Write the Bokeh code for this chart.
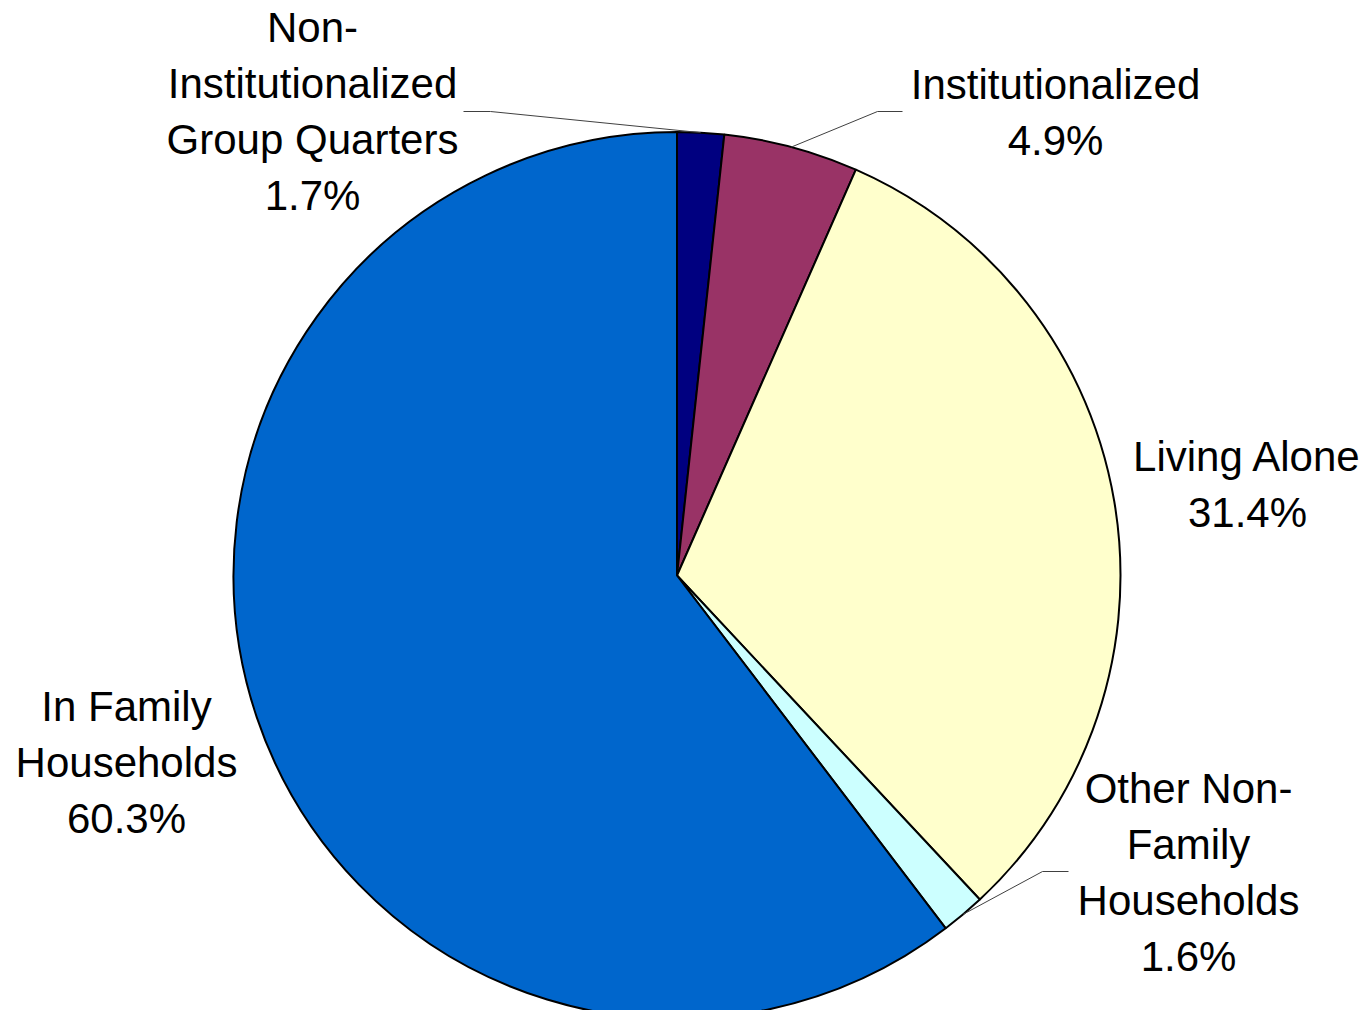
import math
from bokeh.plotting import figure
from bokeh.models import Range1d, ColumnDataSource
from bokeh.embed import file_html
from bokeh.resources import INLINE
from bokeh.core.properties import value

# ---- data ----
categories = ["Non-Institutionalized Group Quarters", "Institutionalized",
              "Living Alone", "Other Non-Family Households", "In Family Households"]
label_lines = [["Non-", "Institutionalized", "Group Quarters"],
               ["Institutionalized"],
               ["Living Alone"],
               ["Other Non-", "Family", "Households"],
               ["In Family", "Households"]]
shares = [1.7, 4.9, 31.4, 1.6, 60.3]
colors = ["#000080", "#993366", "#FFFFCC", "#CCFFFF", "#0066CC"]

# ---- layout (screen pixels) ----
W, H = 1359, 1010
CX, CY, R = 676.5, 575.0, 443.5
label_anchor = [(312, 27), (1055, 84), (1247, 456), (1188, 788), (126, 706)]
LINE_STEP = 56
leader_elbow = [((490, 111), (463, 111)), ((877, 111), (902, 111)), None,
                ((1042, 871), (1068, 871)), None]


def sy(y):
    return H - y


p = figure(width=W, height=H, output_backend="svg", toolbar_location=None,
           x_range=Range1d(0, W), y_range=Range1d(0, H),
           x_axis_location=None, y_axis_location=None, min_border=0)
p.outline_line_color = None
p.grid.visible = False
p.background_fill_color = "white"
p.border_fill_color = "white"

total = sum(shares)
starts, ends, mids = [], [], []
cum = 0.0
for v in shares:
    a0 = math.pi / 2 - 2 * math.pi * cum / total
    cum += v
    a1 = math.pi / 2 - 2 * math.pi * cum / total
    starts.append(a0)
    ends.append(a1)
    mids.append((a0 + a1) / 2)

src = ColumnDataSource(dict(x=[CX] * len(shares), y=[sy(CY)] * len(shares),
                            start=starts, end=ends, color=colors, cat=categories))
p.wedge(x="x", y="y", radius=R, start_angle="start", end_angle="end",
        direction="clock", fill_color="color", line_color="black",
        line_width=2, source=src)

# leader lines
for i, el in enumerate(leader_elbow):
    if el is None:
        continue
    rx = CX + R * math.cos(mids[i])
    ry = sy(CY) + R * math.sin(mids[i])
    (ex, ey), (tx, ty) = el
    p.line([rx, ex, tx], [ry, sy(ey), sy(ty)], line_color="#404040", line_width=1)

# labels
tx_, ty_, tt_ = [], [], []
for i, lines in enumerate(label_lines):
    ax, ay = label_anchor[i]
    all_lines = lines + [f"{shares[i]:.1f}%"]
    for k, ln in enumerate(all_lines):
        tx_.append(ax)
        ty_.append(sy(ay + k * LINE_STEP))
        tt_.append(ln)

p.text(x=tx_, y=ty_, text=tt_, text_align="center", text_baseline="middle",
       text_font=value("Liberation Sans"), text_font_size="42px",
       text_color="black")

open("out.html", "w").write(file_html(p, INLINE))
